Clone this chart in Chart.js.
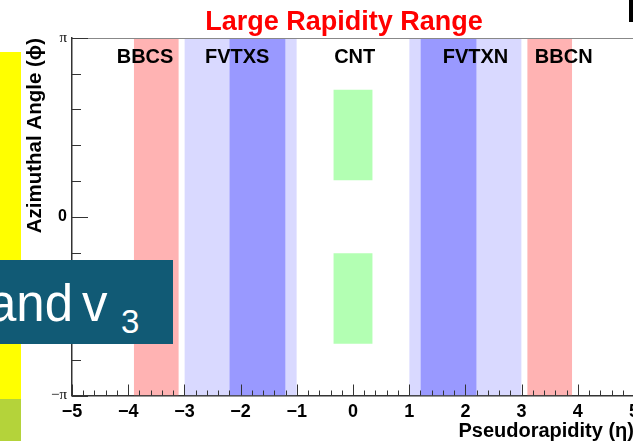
<!DOCTYPE html>
<html>
<head>
<meta charset="utf-8">
<script src="https://cdn.jsdelivr.net/npm/chart.js@4"></script>
<style>
  html, body { margin: 0; padding: 0; background: #fff; overflow: hidden; }
  #wrap { position: relative; width: 633px; height: 441px; overflow: hidden; }
  #plot { position: absolute; left: 0; top: 0; }
  .deco { position: absolute; }
  #yellow { left: 0; top: 52px; width: 21px; height: 347px; background: #ffff00; }
  #lime { left: 0; top: 399px; width: 21px; height: 42px; background: #b4d33a; }
  #corner { left: 629px; top: 0; width: 5px; height: 22px; background: #000; }
  #banner { left: 0; top: 260px; width: 173px; height: 84px; background: #115a75; overflow: hidden; }
  #banner span { position: absolute; color: #fff; line-height: 1; white-space: nowrap;
    font-family: "Liberation Sans", Arial, sans-serif; }
  #b1 { left: -12px; top: 18px; font-size: 51px; }
  #b2 { left: 82px; top: 18px; font-size: 51px; }
  #b3 { left: 121px; top: 45px; font-size: 33px; }
</style>
</head>
<body>
<div id="wrap">
  <canvas id="plot" width="634" height="441"></canvas>
  <div class="deco" id="yellow"></div>
  <div class="deco" id="lime"></div>
  <div class="deco" id="corner"></div>
  <div class="deco" id="banner"><span id="b1">and</span><span id="b2">v</span><span id="b3">3</span></div>
</div>
<script>
// detector acceptance, eta ranges (and phi for the central arms)
const bbcEta = [[-3.9, -3.1], [3.1, 3.9]];
const fvtxOuterEta = [[-3.0, -1.0], [1.0, 3.0]];
const fvtxInnerEta = [[-2.2, -1.2], [1.2, 2.2]];
const cntEta = [-0.35, 0.35];
const cntPhi = [[0.64, 2.23], [-2.23, -0.64]];

const detectorLabels = ['BBCS', 'FVTXS', 'CNT', 'FVTXN', 'BBCN'];
const labelEta = [-3.7, -2.06, 0.03, 2.18, 3.75];
const labelPhi = 2.70;

const yTickValues = [-Math.PI, 0, Math.PI];
const yTickLabels = ['\u2212\u03c0', '0', '\u03c0'];

const FONT = '"Liberation Sans", Arial, Helvetica, sans-serif';
const PI = Math.PI;

function band(x0, x1, y0, y1, color, order) {
  return {
    type: 'line',
    data: [{ x: x0, y: y1 }, { x: x1, y: y1 }],
    fill: { value: y0 },
    backgroundColor: color,
    borderWidth: 0,
    pointRadius: 0,
    order: order
  };
}

const datasets = [];
bbcEta.forEach(r => datasets.push(band(r[0], r[1], -PI, PI, '#ffb3b3', 3)));
fvtxOuterEta.forEach(r => datasets.push(band(r[0], r[1], -PI, PI, '#d9d9ff', 3)));
fvtxInnerEta.forEach(r => datasets.push(band(r[0], r[1], -PI, PI, '#9999ff', 2)));
cntPhi.forEach(p => datasets.push(band(cntEta[0], cntEta[1], p[0], p[1], '#b3ffb3', 1)));

// ROOT style: ticks inside the frame, labels on the bands, red title
const rootFrame = {
  id: 'rootFrame',
  afterDatasetsDraw(chart) {
    const { ctx, chartArea: a, scales: { x, y } } = chart;
    ctx.save();
    ctx.strokeStyle = '#888';
    ctx.lineWidth = 1;
    ctx.beginPath();
    ctx.moveTo(a.left, a.top + 0.5);
    ctx.lineTo(a.right, a.top + 0.5);
    ctx.stroke();

    ctx.strokeStyle = '#333';
    ctx.beginPath();
    for (let i = 0; i <= 50; i++) {
      const v = -5 + i * 0.2;
      const px = Math.round(x.getPixelForValue(v)) + 0.5;
      const len = i % 5 === 0 ? 11 : 5;
      ctx.moveTo(px, a.bottom);
      ctx.lineTo(px, a.bottom - len);
    }
    for (let i = 0; i <= 10; i++) {
      const v = -PI + i * PI / 5;
      const py = Math.round(y.getPixelForValue(v)) + 0.5;
      const len = i % 5 === 0 ? 16 : 9;
      ctx.moveTo(a.left, py);
      ctx.lineTo(a.left + len, py);
    }
    ctx.stroke();

    ctx.fillStyle = '#000';
    ctx.font = 'bold 20px ' + FONT;
    ctx.textAlign = 'center';
    ctx.textBaseline = 'alphabetic';
    detectorLabels.forEach((t, i) => {
      ctx.fillText(t, x.getPixelForValue(labelEta[i]), y.getPixelForValue(labelPhi));
    });

    ctx.fillStyle = '#ff0000';
    ctx.font = 'bold 27px ' + FONT;
    ctx.fillText('Large Rapidity Range', 344, 30);
    ctx.restore();
  }
};

new Chart(document.getElementById('plot'), {
  data: { datasets },
  options: {
    responsive: false,
    animation: false,
    events: [],
    layout: { padding: { top: 38, left: 0, right: 0, bottom: 0 } },
    plugins: { legend: { display: false }, tooltip: { enabled: false } },
    scales: {
      x: {
        type: 'linear', position: 'bottom', min: -5, max: 5,
        afterFit: s => { s.height = 45.5; s.paddingLeft = 0; s.paddingRight = 0; },
        grid: { display: false, drawTicks: false },
        border: { display: true, color: '#333', width: 1.5 },
        ticks: {
          stepSize: 1, padding: 6, color: '#000',
          font: { family: FONT, size: 18, weight: 'bold' },
          callback: v => (v < 0 ? '\u2212' + Math.abs(v) : String(v))
        },
        title: {
          display: true, text: 'Pseudorapidity (\u03b7)', align: 'end', color: '#000',
          font: { family: FONT, size: 20, weight: 'bold', lineHeight: 1 },
          padding: { top: 0, bottom: 0 }
        }
      },
      y: {
        type: 'linear', min: -PI, max: PI,
        afterFit: s => { s.width = 72; s.paddingTop = 0; s.paddingBottom = 0; },
        afterBuildTicks: s => { s.ticks = yTickValues.map(v => ({ value: v })); },
        grid: { display: false, drawTicks: false },
        border: { display: true, color: '#333', width: 1.5 },
        ticks: {
          padding: 5, color: '#000',
          font: c => (c.tick && c.tick.value === 0
            ? { family: FONT, size: 16, weight: 'bold' }
            : { family: '"Liberation Serif", "DejaVu Serif", serif', size: 15 }),
          callback: (v, i) => yTickLabels[i]
        },
        title: {
          display: true, text: 'Azimuthal Angle (\u03d5)', align: 'end', color: '#000',
          font: { family: FONT, size: 20.5, weight: 'bold', lineHeight: 1 },
          padding: { top: 25.5, bottom: 0 }
        }
      }
    }
  },
  plugins: [rootFrame]
});
</script>
</body>
</html>
